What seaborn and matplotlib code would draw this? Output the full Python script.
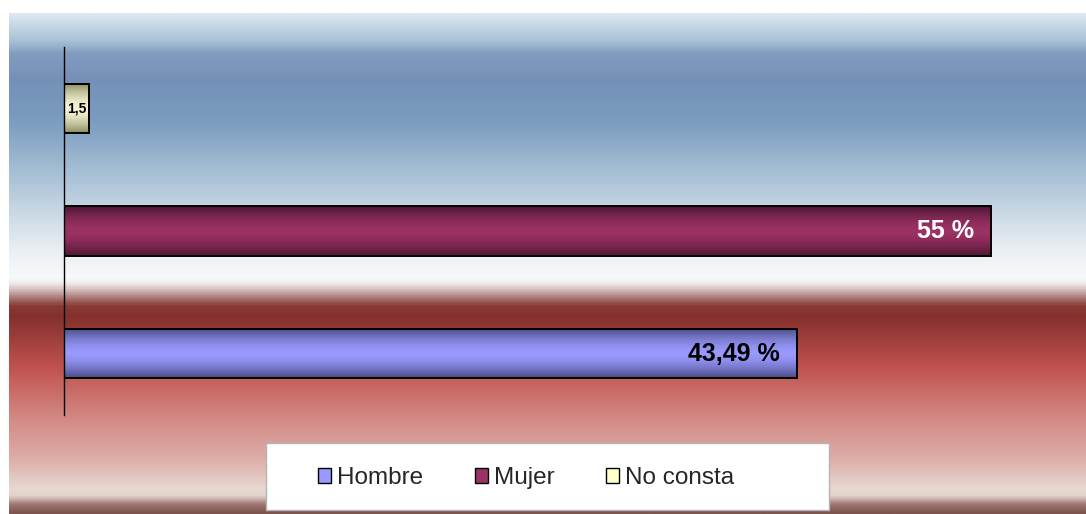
import numpy as np
import pandas as pd
import matplotlib
matplotlib.use('Agg')
import matplotlib.pyplot as plt
from matplotlib.colors import LinearSegmentedColormap, to_rgb
from matplotlib.patches import Patch, Rectangle
import seaborn as sns

# data (top to bottom as in the chart)
categories = ['No consta', 'Mujer', 'Hombre']
values = [1.5, 55.0, 43.49]
labels = ['1,5', '55 %', '43,49 %']
legend_order = ['Hombre', 'Mujer', 'No consta']

base_colors = {'Hombre': '#9999ff', 'Mujer': '#993366', 'No consta': '#ffffcc'}
edge_shades = {'Hombre': '#4a4a84', 'Mujer': '#4c1632', 'No consta': '#8a8a62'}
center_shades = {'Hombre': '#9a9aff', 'Mujer': '#9c3264', 'No consta': '#f6f6d4'}
label_colors = {'Hombre': 'black', 'Mujer': 'white', 'No consta': 'black'}

# background gradient stops: (pixel row, colour)
bg_stops = [
    (13, '#dce8f2'), (40, '#a9c0d6'), (52, '#809ec0'), (78, '#7590b8'),
    (120, '#7a9cc0'), (170, '#a4bed4'), (220, '#d0dde8'), (255, '#eef2f5'),
    (278, '#f7f9fb'), (284, '#efeaea'), (296, '#b48a88'), (306, '#8a3a35'),
    (316, '#83302d'), (368, '#c0524e'), (420, '#d48a85'), (460, '#dcaea8'),
    (490, '#e8d8d2'), (497, '#e4d3cd'), (505, '#a07872'), (514, '#7e5550'),
]

W, H = 1086, 514

sns.set_theme(style='white')
plt.rcParams['font.family'] = ['Liberation Sans', 'DejaVu Sans']

fig = plt.figure(figsize=(W / 100, H / 100), dpi=100)
fig.patch.set_facecolor('white')

# gradient background
bg = fig.add_axes([9 / W, 0, 1 - 9 / W, 1 - 13 / H])
bg.axis('off')
pos = [(y - 13) / (514 - 13) for y, _ in bg_stops]
bg_cmap = LinearSegmentedColormap.from_list('bg', list(zip(pos, [c for _, c in bg_stops])))
bg.imshow(np.linspace(0, 1, 800).reshape(-1, 1), cmap=bg_cmap, aspect='auto',
          extent=[0, 1, 0, 1], interpolation='bilinear')
bg.set_xlim(0, 1)
bg.set_ylim(0, 1)

# main axes
ax = fig.add_axes([64 / W, 1 - 415 / H, (1075 - 64) / W, (415 - 47) / H])
ax.patch.set_alpha(0)

df = pd.DataFrame({'categoria': categories, 'valor': values})
sns.barplot(data=df, x='valor', y='categoria', hue='categoria', order=categories,
            palette=base_colors, legend=False, width=0.4, orient='h',
            edgecolor='black', linewidth=1.4, ax=ax)

# shaded fill for each bar
for patch in list(ax.patches):
    idx = int(round(patch.get_y() + patch.get_height() / 2))
    cat = categories[idx]
    t = np.linspace(0, 1, 120)
    w = (np.abs(t - 0.5) * 2) ** 1.6
    c0 = np.array(to_rgb(center_shades[cat]))
    c1 = np.array(to_rgb(edge_shades[cat]))
    img = (c0[None, :] * (1 - w[:, None]) + c1[None, :] * w[:, None])[:, None, :]
    x0, y0 = patch.get_x(), patch.get_y()
    x1, y1 = x0 + patch.get_width(), y0 + patch.get_height()
    im = ax.imshow(img, extent=[x0, x1, y0, y1], aspect='auto', zorder=1.5,
                   interpolation='bilinear')
    im.set_clip_path(patch)
    patch.set_facecolor('none')
    patch.set_zorder(2)

ax.set_xlim(0, 60)
ax.set_ylim(2.5, -0.5)
for s in ['top', 'right', 'bottom']:
    ax.spines[s].set_visible(False)
ax.spines['left'].set_color('black')
ax.spines['left'].set_linewidth(1.0)
ax.set_xticks([])
ax.set_yticks([])
ax.set_xlabel('')
ax.set_ylabel('')

# value labels
for i, (cat, v, lab) in enumerate(zip(categories, values, labels)):
    if v < 5:
        ax.text(v / 2, i, lab, ha='center', va='center', fontsize=10,
                fontweight='bold', color=label_colors[cat], zorder=3)
    else:
        ax.annotate(lab, xy=(v, i), xytext=(-12, 0), textcoords='offset points',
                    ha='right', va='center', fontsize=18, fontweight='bold',
                    color=label_colors[cat], zorder=3)

# legend box
fig.add_artist(Rectangle((266 / W, 1 - 510 / H), (829 - 266) / W, (510 - 443) / H,
                         transform=fig.transFigure, facecolor='white',
                         edgecolor='#b4b4b4', linewidth=1, zorder=1))
handles = [Patch(facecolor=base_colors[c], edgecolor='black', linewidth=1, label=c)
           for c in legend_order]
leg = fig.legend(handles=handles, loc='center left', bbox_to_anchor=(318 / W, 1 - 478 / H),
                 ncol=3, frameon=False, fontsize=17.5, borderpad=0, borderaxespad=0,
                 handlelength=0.55, handleheight=0.55, handletextpad=0.25,
                 columnspacing=2.1)
leg.set_zorder(2)

fig.savefig('out.png', dpi=100, facecolor='white')
